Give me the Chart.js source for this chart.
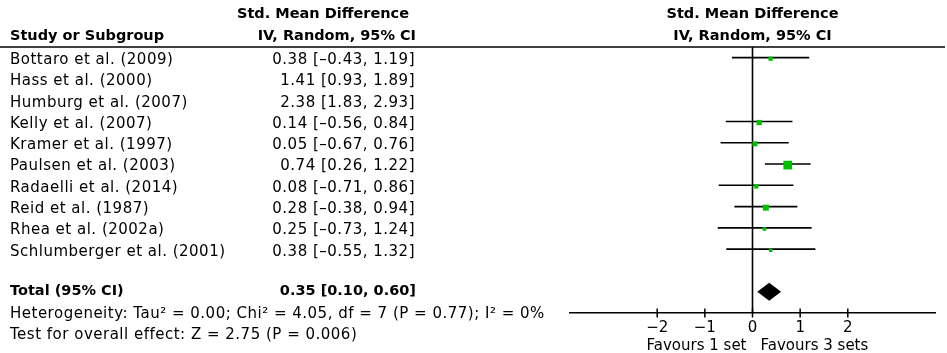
<!DOCTYPE html>
<html><head><meta charset="utf-8">
<script src="https://cdn.jsdelivr.net/npm/chart.js@4/dist/chart.umd.min.js"></script>
<style>html,body{margin:0;padding:0;background:#fff;overflow:hidden}#wrap{width:947px;height:353px;position:relative}</style>
</head><body><div id="wrap"><canvas id="c"></canvas></div>
<script>
// ---- data ----
const studies = ["Bottaro et al. (2009)","Hass et al. (2000)","Humburg et al. (2007)","Kelly et al. (2007)","Kramer et al. (1997)","Paulsen et al. (2003)","Radaelli et al. (2014)","Reid et al. (1987)","Rhea et al. (2002a)","Schlumberger et al. (2001)"];
const smd    = [0.38, 1.41, 2.38, 0.14, 0.05, 0.74, 0.08, 0.28, 0.25, 0.38];
const ciLow  = [-0.43, 0.93, 1.83, -0.56, -0.67, 0.26, -0.71, -0.38, -0.73, -0.55];
const ciHigh = [1.19, 1.89, 2.93, 0.84, 0.76, 1.22, 0.86, 0.94, 1.24, 1.32];
// estimated weights (%) from box areas; null = not pooled / not plotted
const weights = [8.1, null, null, 12.3, 11.0, 33.2, 8.1, 15.8, 6.0, 5.4];
const totalLabel = "Total (95% CI)";
const totalEst = 0.35, totalLow = 0.10, totalHigh = 0.60;
const xTicks = [-2, -1, 0, 1, 2];
const heterogeneityText = "Heterogeneity: Tau\u00B2 = 0.00; Chi\u00B2 = 4.05, df = 7 (P = 0.77); I\u00B2 = 0%";
const overallText = "Test for overall effect: Z = 2.75 (P = 0.006)";
const favoursLeft = "Favours 1 set", favoursRight = "Favours 3 sets";

// ---- helpers ----
const fmt = v => v.toFixed(2).replace('-', '\u2013');
const minus = v => String(v).replace('-', '\u2212');
const totalRow = studies.length + 1;
const REG = '15px "DejaVu Sans"';
const BOLD = 'bold 14.5px "DejaVu Sans"';
const GREEN = '#00c000';

const ciDatasets = [];
studies.forEach((s, i) => {
  if (weights[i] == null) return;
  ciDatasets.push({type:'line', data:[{x:ciLow[i], y:i},{x:ciHigh[i], y:i}], borderColor:'#000', borderWidth:1.6, pointRadius:0, order:2});
});
const markerData = [], markerRadius = [];
studies.forEach((s, i) => {
  if (weights[i] == null) return;
  markerData.push({x:smd[i], y:i + 0.05});
  markerRadius.push(1.51 * Math.sqrt(weights[i]) / (2 * Math.SQRT1_2));
});

const forestPlugin = {
  id:'forest',
  afterDraw(chart) {
    const ctx = chart.ctx, xs = chart.scales.x, ys = chart.scales.y;
    const x0 = xs.getPixelForValue(0);
    ctx.save();
    // header rule
    ctx.strokeStyle = '#000'; ctx.lineWidth = 1.5;
    ctx.beginPath(); ctx.moveTo(0, chart.chartArea.top); ctx.lineTo(945, chart.chartArea.top); ctx.stroke();
    // tick marks crossing the axis
    const yb = chart.chartArea.bottom;
    ctx.lineWidth = 1.5;
    xTicks.forEach(t => { const px = xs.getPixelForValue(t); ctx.beginPath(); ctx.moveTo(px, yb - 4.5); ctx.lineTo(px, yb + 4.5); ctx.stroke(); });
    // diamond
    const yc = ys.getPixelForValue(totalRow), h = 9;
    ctx.fillStyle = '#000';
    ctx.beginPath();
    ctx.moveTo(xs.getPixelForValue(totalLow), yc);
    ctx.lineTo(xs.getPixelForValue(totalEst), yc - h);
    ctx.lineTo(xs.getPixelForValue(totalHigh), yc);
    ctx.lineTo(xs.getPixelForValue(totalEst), yc + h);
    ctx.closePath(); ctx.fill();
    // text
    ctx.fillStyle = '#000'; ctx.textBaseline = 'middle';
    ctx.font = BOLD;
    ctx.letterSpacing = '0px';
    ctx.textAlign = 'right';
    ctx.fillText('Std. Mean Difference', 409, 14);
    ctx.fillText('IV, Random, 95% CI', 416, 36);
    ctx.textAlign = 'left';
    ctx.fillText('Study or Subgroup', 10, 36);
    ctx.textAlign = 'center';
    ctx.fillText('Std. Mean Difference', x0, 14);
    ctx.fillText('IV, Random, 95% CI', x0, 36);
    ctx.font = REG;
    ctx.letterSpacing = '0.5px';
    studies.forEach((s, i) => {
      const y = ys.getPixelForValue(i) + 2.5;
      ctx.textAlign = 'left'; ctx.fillText(s, 10, y);
      ctx.textAlign = 'right'; ctx.fillText(fmt(smd[i]) + ' [' + fmt(ciLow[i]) + ', ' + fmt(ciHigh[i]) + ']', 415, y);
    });
    ctx.font = BOLD;
    ctx.letterSpacing = '0px';
    ctx.textAlign = 'left'; ctx.fillText(totalLabel, 10, yc);
    ctx.textAlign = 'right'; ctx.fillText(fmt(totalEst) + ' [' + fmt(totalLow) + ', ' + fmt(totalHigh) + ']', 416, yc);
    ctx.font = REG; ctx.textAlign = 'left';
    ctx.letterSpacing = '0.5px';
    ctx.fillText(heterogeneityText, 10, 313.7);
    ctx.fillText(overallText, 10, 334.7);
    ctx.letterSpacing = '0px';
    ctx.textAlign = 'right'; ctx.fillText(favoursLeft, x0 - 6, 346);
    ctx.textAlign = 'left'; ctx.fillText(favoursRight, x0 + 8, 346);
    ctx.restore();
  }
};

Chart.defaults.font.family = '"DejaVu Sans"';
Chart.defaults.color = '#000';
new Chart(document.getElementById('c'), {
  type:'scatter',
  data:{datasets:[
    {type:'line', data:[{x:0, y:-0.5},{x:0, y:12}], borderColor:'#000', borderWidth:1.6, pointRadius:0, order:3},
    ...ciDatasets,
    {type:'scatter', data:markerData, pointStyle:'rect', pointRadius:markerRadius, backgroundColor:GREEN, borderWidth:0, order:1}
  ]},
  options:{
    responsive:true, maintainAspectRatio:false, animation:false,
    events:[],
    layout:{padding:{left:570, right:12, top:47, bottom:0}},
    plugins:{legend:{display:false}, tooltip:{enabled:false}},
    scales:{
      x:{type:'linear', min:-3.83, max:3.83,
         afterBuildTicks(s){ s.ticks = xTicks.map(v => ({value:v})); },
         afterFit(s){ s.height = 40; },
         grid:{display:false, drawTicks:false},
         border:{display:true, color:'#000', width:1.6},
         ticks:{padding:6, font:{size:15}, color:'#000', callback:v => minus(v), maxRotation:0}},
      y:{type:'linear', display:false, reverse:true, min:-0.5, max:12}
    }
  },
  plugins:[forestPlugin]
});
</script></body></html>
